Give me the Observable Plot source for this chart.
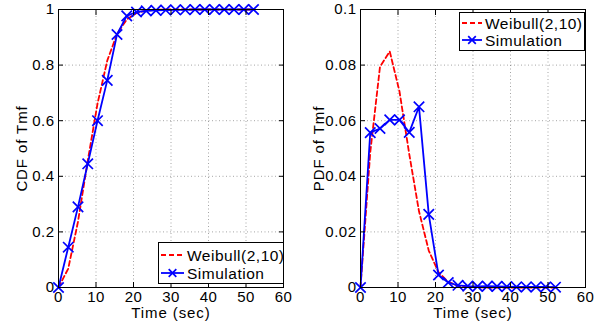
<!DOCTYPE html>
<html>
<head>
<meta charset="utf-8">
<script src="https://cdn.jsdelivr.net/npm/d3@7"></script>
<script src="https://cdn.jsdelivr.net/npm/@observablehq/plot@0.6"></script>
<style>
  html, body { margin: 0; padding: 0; background: #fff; }
  #wrap { position: relative; width: 605px; height: 324px; overflow: hidden; }
  #wrap svg.plot { position: absolute; top: 0; }
  #legend { position: absolute; left: 0; top: 0; pointer-events: none; }
  text { font-family: "Liberation Sans", Arial, Helvetica, sans-serif; }
</style>
</head>
<body>
<div id="wrap"></div>
<script>
// ---- data ----
const timeSec = [0, 2.6, 5.2, 7.8, 10.4, 13, 15.6, 18.2, 20.8, 23.4, 26, 28.6, 31.2, 33.8, 36.4, 39, 41.6, 44.2, 46.8, 49.4, 52];
const simCdf = [0, 0.145, 0.29, 0.445, 0.60, 0.745, 0.91, 0.977, 0.991, 0.995, 0.997, 0.998, 0.999, 0.999, 1, 1, 1, 1, 1, 1, 1];
const weibullCdf = [0, 0.068, 0.237, 0.456, 0.661, 0.816, 0.912, 0.964, 0.987, 0.996, 0.999, 1, 1, 1, 1, 1, 1, 1, 1, 1, 1];
const simPdf = [0, 0.0557, 0.0572, 0.0603, 0.0603, 0.0558, 0.0650, 0.0263, 0.0045, 0.0018, 0.0008, 0.0005, 0.0004, 0.0005, 0.0004, 0.0003, 0.0002, 0.0002, 0.0002, 0.0002, 0.0001];
const weibullPdf = [0, 0.0486, 0.0794, 0.0849, 0.0705, 0.048, 0.0274, 0.0133, 0.0055, 0.002, 0.0006, 0.0002, 0.0001, 0, 0, 0, 0, 0, 0, 0, 0];
const xTicks = [0, 10, 20, 30, 40, 50, 60];
const cdfTicks = [0, 0.2, 0.4, 0.6, 0.8, 1];
const cdfTickLabels = ["0", "0.2", "0.4", "0.6", "0.8", "1"];
const pdfTicks = [0, 0.02, 0.04, 0.06, 0.08, 0.1];
const pdfTickLabels = ["0", "0.02", "0.04", "0.06", "0.08", "0.1"];
const seriesNames = ["Weibull(2,10)", "Simulation"];
const xLabel = "Time (sec)";

const RED = "#ff0000", BLUE = "#0000ff";
const FONT = "Liberation Sans, Arial, Helvetica, sans-serif";

function panel({rows, yDomain, yTicks, yLabels, yLabel, yLabelOffset, width, marginRight}) {
  const grid = {stroke: "#000", strokeOpacity: 0.45, strokeDasharray: "1,2.5", strokeWidth: 0.8};
  const svg = Plot.plot({
    width, height: 324,
    marginLeft: 58, marginRight, marginTop: 9, marginBottom: 37,
    style: {fontFamily: FONT, fontSize: "15px", letterSpacing: "0.5px", color: "#000", background: "transparent"},
    x: {domain: [0, 60]},
    y: {domain: yDomain},
    marks: [
      Plot.gridX(xTicks.slice(1, -1), grid),
      Plot.gridY(yTicks.slice(1, -1), grid),
      Plot.line(rows, {x: "t", y: "weib", stroke: RED, strokeWidth: 1.8, strokeDasharray: "5,3"}),
      Plot.line(rows, {x: "t", y: "sim", stroke: BLUE, strokeWidth: 1.8}),
      Plot.dot(rows, {x: "t", y: "sim", symbol: "times", r: 4.8, stroke: BLUE, strokeWidth: 1.7}),
      // inward ticks on all four sides
      Plot.axisX(xTicks, {anchor: "bottom", tickSize: -5, tickFormat: () => "", label: null, stroke: "#000"}),
      Plot.axisX(xTicks, {anchor: "top", tickSize: -5, tickFormat: () => "", label: null, stroke: "#000"}),
      Plot.axisY(yTicks, {anchor: "left", tickSize: -5, tickFormat: () => "", label: null, stroke: "#000"}),
      Plot.axisY(yTicks, {anchor: "right", tickSize: -5, tickFormat: () => "", label: null, stroke: "#000"}),
      // labels
      Plot.axisX(xTicks, {anchor: "bottom", tickSize: 0, tickPadding: 3.5, label: xLabel, labelAnchor: "center", labelArrow: "none", labelOffset: 30, fill: "#000"}),
      Plot.axisY(yTicks, {anchor: "left", tickSize: 0, tickPadding: 4, tickFormat: (d, i) => yLabels[i], label: yLabel, labelAnchor: "center", labelArrow: "none", labelOffset: yLabelOffset, fill: "#000"}),
      Plot.frame({stroke: "#000", strokeWidth: 1})
    ]
  });
  svg.classList.add("plot");
  svg.querySelectorAll('g[aria-label$="axis label"]').forEach(g => g.style.letterSpacing = "0.9px");
  return svg;
}

const cdfRows = timeSec.map((t, i) => ({t, sim: simCdf[i], weib: weibullCdf[i]}));
const pdfRows = timeSec.map((t, i) => ({t, sim: simPdf[i], weib: weibullPdf[i]}));

const wrap = document.getElementById("wrap");
const left = panel({rows: cdfRows, yDomain: [0, 1], yTicks: cdfTicks, yLabels: cdfTickLabels, yLabel: "CDF of Tmf", yLabelOffset: 42, width: 302, marginRight: 19});
left.style.left = "0px";
const right = panel({rows: pdfRows, yDomain: [0, 0.1], yTicks: pdfTicks, yLabels: pdfTickLabels, yLabel: "PDF of Tmf", yLabelOffset: 47, width: 303, marginRight: 20});
right.style.left = "302px";
wrap.appendChild(left);
wrap.appendChild(right);

// legends (overlay)
const ns = "http://www.w3.org/2000/svg";
const lg = document.createElementNS(ns, "svg");
lg.setAttribute("id", "legend");
lg.setAttribute("width", 605);
lg.setAttribute("height", 324);
function el(tag, attrs, parent) {
  const e = document.createElementNS(ns, tag);
  for (const k in attrs) e.setAttribute(k, attrs[k]);
  parent.appendChild(e);
  return e;
}
function legend(x, y, w, h, rowY, lineX0, lineX1, textX) {
  el("rect", {x: x + 0.5, y: y + 0.5, width: w, height: h, fill: "#fff", stroke: "#000", "stroke-width": 1}, lg);
  el("line", {x1: lineX0, x2: lineX1, y1: rowY[0], y2: rowY[0], stroke: RED, "stroke-width": 1.8, "stroke-dasharray": "5,3"}, lg);
  el("line", {x1: lineX0, x2: lineX1, y1: rowY[1], y2: rowY[1], stroke: BLUE, "stroke-width": 1.8}, lg);
  const cx = (lineX0 + lineX1) / 2, cy = rowY[1], s = 3.8;
  el("path", {d: `M${cx - s},${cy - s}L${cx + s},${cy + s}M${cx - s},${cy + s}L${cx + s},${cy - s}`, stroke: BLUE, "stroke-width": 1.7, fill: "none"}, lg);
  seriesNames.forEach((name, i) => {
    const t = el("text", {x: textX, y: rowY[i], "dominant-baseline": "central", "font-size": 15.5, "letter-spacing": "0.5px", fill: "#000"}, lg);
    t.textContent = name;
  });
}
legend(158, 242, 125, 41, [255, 273], 161, 184, 187);
legend(459, 12, 125, 38, [23, 40], 462, 482, 485);
wrap.appendChild(lg);
</script>
</body>
</html>
